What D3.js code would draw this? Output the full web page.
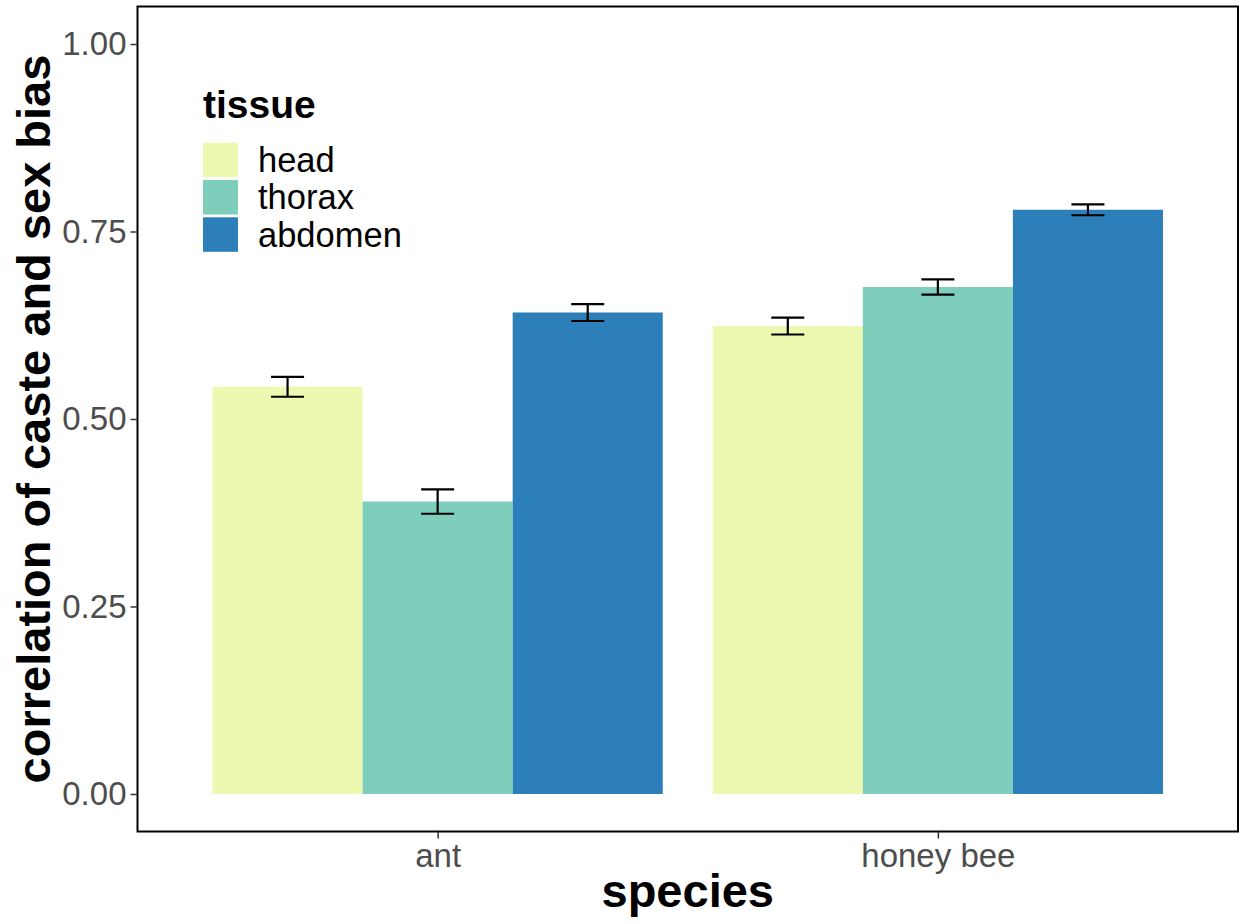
<!DOCTYPE html>
<html>
<head>
<meta charset="utf-8">
<script src="https://cdn.jsdelivr.net/npm/d3@7"></script>
<style>
  body { margin: 0; background: #fff; }
  svg { font-family: "Liberation Sans", Arial, sans-serif; }
</style>
</head>
<body>
<svg id="viz" width="1239" height="924"></svg>
<script>
// data
const species = ['ant', 'honey bee'];
const tissues = ['head', 'thorax', 'abdomen'];
const tissueColors = ['#edf8b1', '#7fcdbb', '#2c7fb8'];
const meanAnt = [0.543, 0.390, 0.642];
const meanBee = [0.624, 0.676, 0.779];
const seAnt = [0.0133, 0.0163, 0.0113];
const seBee = [0.0113, 0.0102, 0.0073];
const yTicks = [0, 0.25, 0.5, 0.75, 1];

const rows = [];
species.forEach((s, si) => {
  tissues.forEach((t, ti) => {
    rows.push({
      species: s,
      tissue: t,
      mean: si == 0 ? meanAnt[ti] : meanBee[ti],
      se: si == 0 ? seAnt[ti] : seBee[ti],
    });
  });
});

const margin = { top: 6.5, right: 1, bottom: 92.5, left: 137.5 };
const width = 1239 - margin.left - margin.right;
const height = 924 - margin.top - margin.bottom;

const svg = d3
  .select('#viz')
  .append('g')
  .attr('transform', 'translate(' + margin.left + ',' + margin.top + ')');

// ggplot style discrete scale: 0.6 expansion on each side
const unit = width / (species.length - 1 + 1.2);
const x = d3
  .scalePoint()
  .domain(species)
  .range([0.6 * unit, width - 0.6 * unit]);

const xInner = d3
  .scaleBand()
  .domain(tissues)
  .range([-0.45 * unit, 0.45 * unit]);

const y = d3.scaleLinear().domain([-0.05, 1.05]).range([height, 0]);

const color = d3.scaleOrdinal().domain(tissues).range(tissueColors);

// bars
svg
  .append('g')
  .selectAll('rect')
  .data(rows)
  .join('rect')
  .attr('x', (d) => x(d.species) + xInner(d.tissue))
  .attr('y', (d) => y(d.mean))
  .attr('width', xInner.bandwidth())
  .attr('height', (d) => y(0) - y(d.mean))
  .attr('fill', (d) => color(d.tissue));

// error bars
const capHalf = 16.5;
const eb = svg
  .append('g')
  .selectAll('g')
  .data(rows)
  .join('g')
  .attr('stroke', 'black')
  .attr('stroke-width', 2.2);

eb.append('line')
  .attr('x1', (d) => x(d.species) + xInner(d.tissue) + xInner.bandwidth() / 2)
  .attr('x2', (d) => x(d.species) + xInner(d.tissue) + xInner.bandwidth() / 2)
  .attr('y1', (d) => y(d.mean - d.se))
  .attr('y2', (d) => y(d.mean + d.se));

eb.append('line')
  .attr('x1', (d) => x(d.species) + xInner(d.tissue) + xInner.bandwidth() / 2 - capHalf)
  .attr('x2', (d) => x(d.species) + xInner(d.tissue) + xInner.bandwidth() / 2 + capHalf)
  .attr('y1', (d) => y(d.mean + d.se))
  .attr('y2', (d) => y(d.mean + d.se));

eb.append('line')
  .attr('x1', (d) => x(d.species) + xInner(d.tissue) + xInner.bandwidth() / 2 - capHalf)
  .attr('x2', (d) => x(d.species) + xInner(d.tissue) + xInner.bandwidth() / 2 + capHalf)
  .attr('y1', (d) => y(d.mean - d.se))
  .attr('y2', (d) => y(d.mean - d.se));

// panel border
svg
  .append('rect')
  .attr('x', 0)
  .attr('y', 0)
  .attr('width', width)
  .attr('height', height)
  .attr('fill', 'none')
  .attr('stroke', 'black')
  .attr('stroke-width', 2);

// y axis
const yAxis = svg
  .append('g')
  .call(d3.axisLeft(y).tickValues(yTicks).tickFormat(d3.format('.2f')).tickSize(7).tickPadding(4));
yAxis.select('.domain').remove();
yAxis.selectAll('line').attr('stroke', '#333').attr('stroke-width', 1.5);
yAxis
  .selectAll('text')
  .attr('fill', '#4d4d4d')
  .style('font-size', '33px')
  .style('font-family', '"Liberation Sans", Arial, sans-serif');

// x axis
const xAxis = svg
  .append('g')
  .attr('transform', 'translate(0,' + height + ')')
  .call(d3.axisBottom(x).tickSize(7).tickPadding(8));
xAxis.select('.domain').remove();
xAxis.selectAll('line').attr('stroke', '#333').attr('stroke-width', 1.5);
xAxis
  .selectAll('text')
  .attr('fill', '#4d4d4d')
  .attr('dy', null)
  .attr('y', 867.3 - margin.top - height)
  .style('font-size', '33px')
  .style('font-family', '"Liberation Sans", Arial, sans-serif');

// axis titles
svg
  .append('text')
  .attr('x', width / 2)
  .attr('y', 906.7 - margin.top)
  .attr('text-anchor', 'middle')
  .style('font-size', '47px')
  .style('font-weight', 'bold')
  .text('species');

svg
  .append('text')
  .attr('transform', 'rotate(-90)')
  .attr('x', -height / 2)
  .attr('y', 50 - margin.left)
  .attr('text-anchor', 'middle')
  .style('font-size', '47px')
  .style('font-weight', 'bold')
  .text('correlation of caste and sex bias');

// legend
const legend = svg
  .append('g')
  .attr('transform', 'translate(' + (203 - margin.left) + ',' + (118.3 - margin.top) + ')');

legend
  .append('text')
  .attr('x', 0)
  .attr('y', 0)
  .style('font-size', '39px')
  .style('font-weight', 'bold')
  .text('tissue');

const keys = legend
  .selectAll('g.key')
  .data(tissues)
  .join('g')
  .attr('class', 'key')
  .attr('transform', (d, i) => 'translate(0,' + (24.4 + i * 37.3) + ')');

keys
  .append('rect')
  .attr('width', 35)
  .attr('height', 34.5)
  .attr('fill', (d) => color(d));

keys
  .append('text')
  .attr('x', 55)
  .attr('y', 17.2)
  .attr('dy', '0.35em')
  .style('font-size', '34.5px')
  .text((d) => d);
</script>
</body>
</html>
